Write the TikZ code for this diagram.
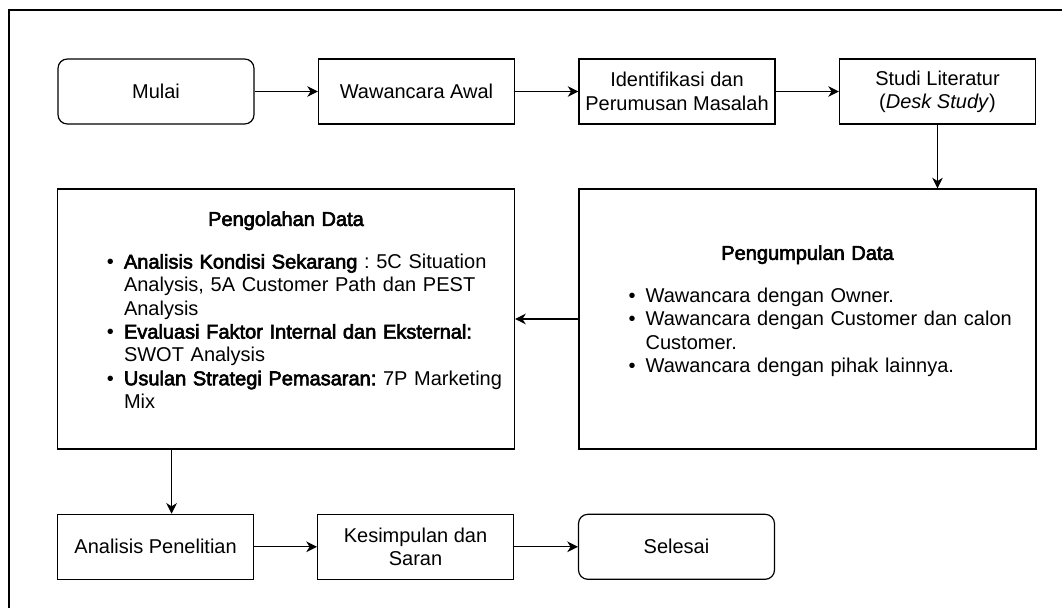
\documentclass[tikz,border=0pt]{standalone}
\usepackage{fontspec}
\setmainfont{Liberation Sans}[BoldFont={Liberation Sans}, BoldFeatures={FakeBold=3}]
\usepackage{enumitem}
\usepackage{tikz}
\usetikzlibrary{arrows.meta}
\frenchspacing

\tikzset{
  teks/.style={font=\fontsize{15}{17.5}\selectfont},
  proses/.style={teks, draw, line width=0.9pt, minimum width=147pt, minimum height=48.75pt, align=center, inner sep=2pt},
  mulaiselesai/.style={proses, rounded corners=7pt},
  besar/.style={teks, draw, line width=0.9pt, minimum width=342.75pt, minimum height=195pt, inner sep=0pt},
  panah/.style={-{Stealth[length=8pt,width=8pt,inset=2.5pt]}, line width=0.9pt},
  bingkai/.style={line width=1.4pt}
}

\begin{document}
\begin{tikzpicture}[x=0.75pt,y=-0.75pt]
  \useasboundingbox (0,0) rectangle (1062,607);
  \draw[bingkai] (9,620) -- (9,10) -- (1075,10);

  \node[mulaiselesai] (mulai) at (156,91.5) {Mulai};
  \node[proses] (wawancara) at (416.5,91.5) {Wawancara Awal};
  \node[proses] (identifikasi) at (677,91.5) {Identifikasi dan\\Perumusan Masalah};
  \node[proses] (studi) at (937.5,91.5) {Studi Literatur\\(\textit{Desk Study})};

  \node[besar, text width=318.75pt] (pengumpulan) at (807.5,319) {%
    \centering\textbf{Pengumpulan Data}\par\vspace{14.5pt}\raggedright
    \begin{itemize}[nosep, leftmargin=38pt, labelsep=7.5pt]
      \item Wawancara dengan Owner.
      \item Wawancara dengan Customer dan calon\newline Customer.
      \item Wawancara dengan pihak lainnya.
    \end{itemize}\par\vspace{12pt}\hrule height 0pt depth 0pt width 0pt};
  \node[besar, text width=336pt] (pengolahan) at (286,319) {%
    \centering\textbf{Pengolahan Data}\par\vspace{14.5pt}\raggedright
    \begin{itemize}[nosep, leftmargin=46.5pt, labelsep=7.5pt]
      \item \textbf{Analisis Kondisi Sekarang} : 5C Situation\newline Analysis, 5A Customer Path dan PEST\newline Analysis
      \item \textbf{Evaluasi Faktor Internal dan Eksternal:}\newline SWOT Analysis
      \item \textbf{Usulan Strategi Pemasaran:} 7P Marketing\newline Mix
    \end{itemize}\par\vspace{13.5pt}\hrule height 0pt depth 0pt width 0pt};

  \node[proses] (analisis) at (155.6,546.8) {Analisis Penelitian};
  \node[proses] (kesimpulan) at (415.5,546.8) {Kesimpulan dan\\Saran};
  \node[mulaiselesai] (selesai) at (676.5,546.8) {Selesai};

  \draw[panah] (mulai) -- (wawancara);
  \draw[panah] (wawancara) -- (identifikasi);
  \draw[panah] (identifikasi) -- (studi);
  \draw[panah] (studi) -- (studi |- pengumpulan.north);
  \draw[panah] (pengumpulan) -- (pengolahan);
  \draw[panah] ([xshift=12pt]analisis.north |- pengolahan.south) -- ([xshift=12pt]analisis.north);
  \draw[panah] (analisis) -- (kesimpulan);
  \draw[panah] (kesimpulan) -- (selesai);
\end{tikzpicture}
\end{document}
